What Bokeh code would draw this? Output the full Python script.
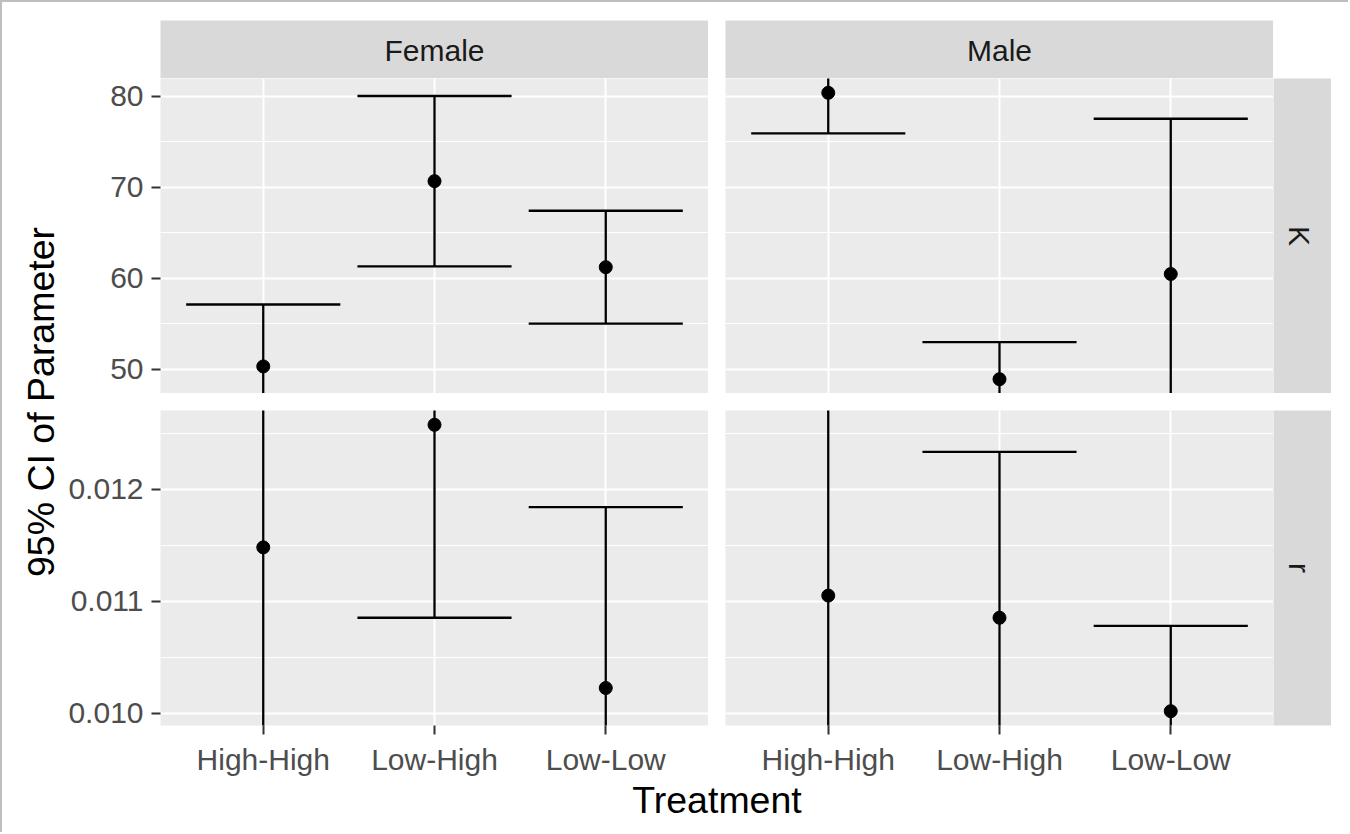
from bokeh.plotting import figure
from bokeh.models import Range1d, FixedTicker, NumeralTickFormatter, Spacer, ColumnDataSource
from bokeh.layouts import row, column
from bokeh.core.properties import value
from bokeh.embed import file_html
from bokeh.resources import INLINE
import math

# ---- data -------------------------------------------------------------
treatments = ["High-High", "Low-High", "Low-Low"]
sexes = ["Female", "Male"]
parameters = ["K", "r"]

# estimates and 95% CI bounds, in treatment order
K_female_est = [50.3, 70.65, 61.2]
K_female_lo = [43.5, 61.3, 55.0]
K_female_hi = [57.1, 80.0, 67.4]
K_male_est = [80.35, 48.9, 60.45]
K_male_lo = [75.9, 44.8, 43.4]
K_male_hi = [84.8, 52.98, 77.5]

r_female_est = [0.011482, 0.012577, 0.010225]
r_female_lo = [0.009582, 0.010853, 0.008609]
r_female_hi = [0.013382, 0.014301, 0.011841]
r_male_est = [0.011051, 0.010853, 0.010018]
r_male_lo = [0.009051, 0.009371, 0.009255]
r_male_hi = [0.013051, 0.012335, 0.010781]

K_ticks = [50, 60, 70, 80]
K_minor = [45, 55, 65, 75, 85]
r_ticks = [0.010, 0.011, 0.012]
r_minor = [0.0095, 0.0105, 0.0115, 0.0125, 0.0135]

# ---- style ------------------------------------------------------------
FONT = "Liberation Sans"
PANEL_BG = "#EBEBEB"
STRIP_BG = "#D9D9D9"
TICK_PX = 30
TITLE_PX = 37.5
BASE_SHIFT = 0.35   # alphabetic anchor correction, in em

# ---- layout sizes (px) ------------------------------------------------
YTITLE_W = 60
AXIS_W = 98
PANEL_W = 548
PANEL_H = 315
GAP = 17
STRIP = 58
TAIL = 17
TOP_PAD = 18
XAXIS_H = 55
XTITLE_H = 52
FULL_W = YTITLE_W + AXIS_W + PANEL_W + GAP + PANEL_W + STRIP + TAIL

xs = [i + 1 for i in range(len(treatments))]
CAP_HALF = 0.45
LINE_W = 2.3


def padded(vals_a, vals_b):
    lo = min(vals_a + vals_b)
    hi = max(vals_a + vals_b)
    span = hi - lo
    return lo - 0.05 * span, hi + 0.05 * span


K_range = padded(K_female_est, K_male_est)
r_range = padded(r_female_est, r_male_est)


def panel(est, lo, hi, yr, yticks, yminor, show_y, show_x, yfmt=None):
    width = (AXIS_W if show_y else 0) + PANEL_W
    height = PANEL_H + (XAXIS_H if show_x else 0)
    p = figure(width=width, height=height, output_backend="svg", toolbar_location=None,
               x_range=Range1d(0.4, 3.6), y_range=Range1d(*yr),
               x_axis_location="below" if show_x else None,
               y_axis_location="left" if show_y else None,
               min_border_left=AXIS_W if show_y else 0, min_border_right=0,
               min_border_top=0, min_border_bottom=XAXIS_H if show_x else 0,
               background_fill_color=PANEL_BG, border_fill_color="white",
               outline_line_color=None)
    p.xgrid.ticker = FixedTicker(ticks=xs)
    p.ygrid.ticker = FixedTicker(ticks=yticks, minor_ticks=yminor)
    p.grid.grid_line_color = "white"
    p.grid.grid_line_width = 2
    p.ygrid.minor_grid_line_color = "white"
    p.ygrid.minor_grid_line_width = 1.2

    for ax in ([p.yaxis[0]] if show_y else []) + ([p.xaxis[0]] if show_x else []):
        ax.axis_line_color = None
        ax.major_tick_line_color = "#333333"
        ax.major_tick_line_width = 2
        ax.major_tick_out = 9
        ax.major_tick_in = 0
        ax.minor_tick_line_color = None
        ax.major_label_text_font = FONT
        ax.major_label_text_font_size = f"{TICK_PX}px"
        ax.major_label_text_color = "#4D4D4D"
        ax.major_label_standoff = 8
    if show_y:
        p.yaxis.ticker = FixedTicker(ticks=yticks)
        if yfmt:
            p.yaxis.formatter = NumeralTickFormatter(format=yfmt)
    if show_x:
        p.xaxis.ticker = FixedTicker(ticks=xs)
        p.xaxis.major_label_overrides = {x: t for x, t in zip(xs, treatments)}

    src = ColumnDataSource(dict(x=xs, est=est, lo=lo, hi=hi,
                                left=[x - CAP_HALF for x in xs],
                                right=[x + CAP_HALF for x in xs]))
    p.segment(x0="x", y0="lo", x1="x", y1="hi", source=src, line_color="black", line_width=LINE_W)
    p.segment(x0="left", y0="hi", x1="right", y1="hi", source=src, line_color="black", line_width=LINE_W)
    p.segment(x0="left", y0="lo", x1="right", y1="lo", source=src, line_color="black", line_width=LINE_W)
    p.scatter(x="x", y="est", source=src, size=13, color="black")
    return p


def text_box(width, height, label, tx, ty, angle=0.0, fill=None, size=TICK_PX,
             color="#1A1A1A", top=0, bottom=0):
    """A bare box holding one text; (tx, ty) is the wanted baseline anchor."""
    p = figure(width=width, height=height, output_backend="svg", toolbar_location=None,
               x_range=Range1d(0, width), y_range=Range1d(0, height - top - bottom),
               x_axis_location=None, y_axis_location=None,
               min_border_left=0, min_border_right=0, min_border_top=top, min_border_bottom=bottom,
               background_fill_color=fill if fill else "white", border_fill_color="white",
               outline_line_color=None)
    p.grid.visible = False
    shift = BASE_SHIFT * size
    # move the anchor "up" in the text's own frame
    ax = tx - shift * math.sin(angle)
    ay = ty + shift * math.cos(angle)
    p.text(x=[ax], y=[ay], text=[label], angle=angle,
           text_font=value(FONT), text_font_size=value(f"{size}px"), text_color=color,
           text_align="center", text_baseline="alphabetic")
    return p


# ---- panels -----------------------------------------------------------
fk = panel(K_female_est, K_female_lo, K_female_hi, K_range, K_ticks, K_minor, True, False)
mk = panel(K_male_est, K_male_lo, K_male_hi, K_range, K_ticks, K_minor, False, False)
fr = panel(r_female_est, r_female_lo, r_female_hi, r_range, r_ticks, r_minor, True, True, "0.000")
mr = panel(r_male_est, r_male_lo, r_male_hi, r_range, r_ticks, r_minor, False, True)

# ---- strips -----------------------------------------------------------
strip_f = text_box(PANEL_W, TOP_PAD + STRIP, sexes[0], PANEL_W / 2, 18, fill=STRIP_BG, top=TOP_PAD)
strip_m = text_box(PANEL_W, TOP_PAD + STRIP, sexes[1], PANEL_W / 2, 18, fill=STRIP_BG, top=TOP_PAD)
strip_k = text_box(STRIP, PANEL_H, parameters[0], 15, PANEL_H / 2, angle=-math.pi / 2, fill=STRIP_BG)
strip_r = text_box(STRIP, PANEL_H + XAXIS_H, parameters[1], 15, PANEL_H / 2, angle=-math.pi / 2,
                   fill=STRIP_BG, bottom=XAXIS_H)

# ---- axis titles ------------------------------------------------------
mid_h = PANEL_H + GAP + PANEL_H + XAXIS_H
ytitle = text_box(YTITLE_W, mid_h, "95% CI of Parameter", 52, XAXIS_H + PANEL_H + GAP / 2,
                  angle=math.pi / 2, size=TITLE_PX, color="black")
panels_center = YTITLE_W + AXIS_W + (PANEL_W + GAP + PANEL_W) / 2
xtitle = text_box(FULL_W, XTITLE_H, "Treatment", panels_center, 19, size=TITLE_PX, color="black")

# ---- assemble ---------------------------------------------------------
top_row = row(Spacer(width=YTITLE_W + AXIS_W, height=TOP_PAD + STRIP), strip_f,
              Spacer(width=GAP, height=TOP_PAD + STRIP), strip_m,
              Spacer(width=STRIP + TAIL, height=TOP_PAD + STRIP))
k_row = row(fk, Spacer(width=GAP, height=PANEL_H), mk, strip_k, Spacer(width=TAIL, height=PANEL_H))
r_row = row(fr, Spacer(width=GAP, height=PANEL_H + XAXIS_H), mr, strip_r,
            Spacer(width=TAIL, height=PANEL_H + XAXIS_H))
panels_block = column(k_row, Spacer(width=FULL_W - YTITLE_W, height=GAP), r_row)
middle = row(ytitle, panels_block)

root = column(top_row, middle, xtitle,
              styles={"border-top": "2px solid #BEBEBE", "border-left": "2px solid #BEBEBE"})

open("out.html", "w").write(file_html(root, INLINE))
